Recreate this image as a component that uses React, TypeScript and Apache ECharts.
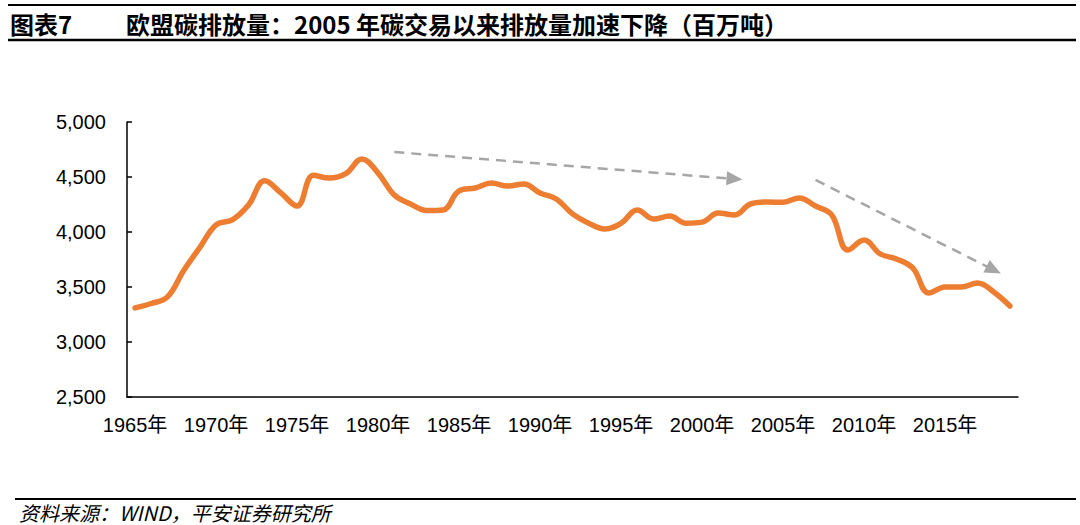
import React, { useEffect, useRef } from "react";
import * as echarts from "echarts";

const years: string[] = [];
for (let y = 1965; y <= 2019; y++) years.push(String(y));

const emissions = [
  3310, 3350, 3410, 3650, 3860, 4065, 4110, 4245, 4465, 4355,
  4236, 4515, 4490, 4530, 4664, 4536, 4336, 4255, 4195, 4200,
  4373, 4400, 4445, 4418, 4436, 4355, 4300, 4165, 4080, 4027,
  4080, 4200, 4118, 4145, 4080, 4090, 4172, 4155, 4255, 4273,
  4270, 4310, 4236, 4155, 3836, 3927, 3800, 3755, 3673, 3445,
  3500, 3500, 3536, 3455, 3327,
];

const yTicks = { min: 2500, max: 5000, interval: 500 };

const arrows = [
  { from: ["1981", 4727], to: ["2002", 4482] },
  { from: ["2007", 4473], to: ["2018", 3655] },
];

const titleLabel = "图表7";
const titleText = "欧盟碳排放量：2005 年碳交易以来排放量加速下降（百万吨）";
const sourceText = "资料来源：WIND，平安证券研究所";

const LATIN = "'Liberation Sans', Arial, 'Noto Sans CJK SC', sans-serif";
const CJK = "'Noto Sans CJK SC', 'Liberation Sans', sans-serif";

export default function App() {
  const ref = useRef<HTMLDivElement>(null);
  useEffect(() => {
    document.body.style.margin = "0";
    if (!ref.current) return;
    const chart = echarts.init(ref.current, undefined, { renderer: "svg" });
    chart.setOption({
      animation: false,
      backgroundColor: "#ffffff",
      grid: { left: 127, right: 62, top: 122, bottom: 128, containLabel: false },
      xAxis: {
        type: "category",
        data: years,
        boundaryGap: true,
        axisLine: { lineStyle: { color: "#000", width: 1.5 } },
        axisTick: { inside: true, length: 5, interval: 0, lineStyle: { color: "#000", width: 1.5 } },
        axisLabel: {
          interval: 4,
          margin: 18,
          color: "#000",
          fontSize: 20,
          fontFamily: LATIN,
          formatter: (v: string) => v + "年",
        },
        splitLine: { show: false },
      },
      yAxis: {
        type: "value",
        min: yTicks.min,
        max: yTicks.max,
        interval: yTicks.interval,
        axisLine: { show: true, lineStyle: { color: "#000", width: 1.5 } },
        axisTick: { show: true, inside: true, length: 5, lineStyle: { color: "#000", width: 1.5 } },
        axisLabel: {
          margin: 21,
          color: "#000",
          fontSize: 20,
          fontFamily: LATIN,
          formatter: (v: number) => v.toLocaleString("en-US"),
        },
        splitLine: { show: false },
      },
      series: [
        {
          type: "line",
          data: emissions,
          smooth: 0.4,
          symbol: "none",
          lineStyle: { color: "#ED7D31", width: 5.5, cap: "round" },
          markLine: {
            silent: true,
            symbol: ["none", "triangle"],
            symbolSize: [14, 16],
            label: { show: false },
            lineStyle: { color: "#A6A6A6", width: 2.5, type: [10, 7] },
            data: arrows.map((a) => [{ coord: a.from }, { coord: a.to }]),
          },
        },
      ],
      graphic: [
        { type: "line", shape: { x1: 8, y1: 5, x2: 1076, y2: 5 }, style: { stroke: "#000", lineWidth: 2 } },
        { type: "line", shape: { x1: 8, y1: 40, x2: 1076, y2: 40 }, style: { stroke: "#000", lineWidth: 2.5 } },
        {
          type: "text",
          x: 10,
          y: 23,
          style: { text: titleLabel, font: `bold 24px ${CJK}`, fill: "#000", verticalAlign: "middle" },
        },
        {
          type: "text",
          x: 126,
          y: 23,
          style: { text: titleText, font: `bold 24px ${CJK}`, fill: "#000", verticalAlign: "middle" },
        },
        { type: "line", shape: { x1: 15, y1: 499, x2: 1076, y2: 499 }, style: { stroke: "#000", lineWidth: 2 } },
        {
          type: "text",
          x: 19,
          y: 512,
          style: { text: sourceText, font: `italic 20px ${CJK}`, fill: "#000", verticalAlign: "middle" },
        },
      ],
    });
    return () => chart.dispose();
  }, []);
  return <div ref={ref} style={{ width: 1080, height: 525 }} />;
}
